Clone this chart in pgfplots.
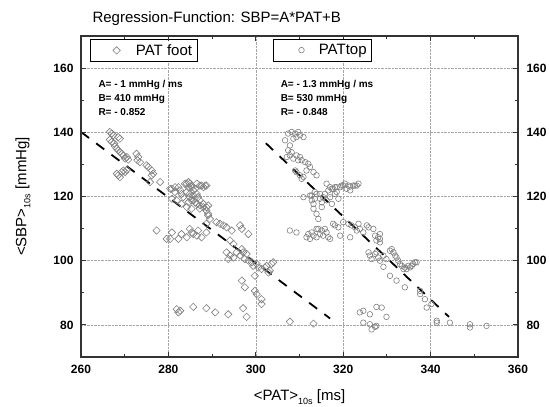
\documentclass[border=0pt]{standalone}
\usepackage{fontspec}
\setmainfont{Liberation Sans}
\usepackage{pgfplots}
\pgfplotsset{compat=1.18}
\usetikzlibrary{calc}

\pgfplotstableread{
x y
266.6 140.1
267.0 139.6
267.4 139.1
268.5 138.5
268.9 138.0
266.6 137.7
267.0 137.0
267.6 136.5
267.8 135.6
268.2 134.9
268.5 134.4
268.9 133.9
269.3 133.3
269.7 132.8
270.1 131.8
270.5 132.3
270.8 131.5
268.2 127.1
268.5 126.6
268.9 126.0
269.3 127.6
269.7 128.1
270.1 127.6
270.5 128.3
272.7 133.3
273.1 132.3
272.9 131.3
273.5 130.7
275.0 129.7
275.4 129.2
276.2 128.1
276.5 127.1
278.1 124.5
276.2 126.6
275.8 124.5
280.8 122.4
281.5 121.4
282.3 122.9
282.7 121.9
283.0 120.8
283.4 119.8
284.2 124.0
284.6 122.9
284.9 124.0
285.3 122.9
285.7 121.9
284.2 121.4
284.9 120.8
285.7 120.3
286.5 120.8
286.8 119.8
287.2 118.8
287.6 123.4
288.4 123.4
288.0 117.7
288.7 116.7
284.6 118.2
285.3 118.8
286.1 118.2
287.2 116.2
289.1 114.6
289.5 113.0
280.4 122.4
281.5 122.9
283.8 124.0
284.6 124.5
285.3 123.4
286.1 122.4
286.5 124.0
287.2 123.4
288.0 122.9
288.7 123.4
284.9 119.8
285.7 118.8
286.5 117.7
287.2 117.2
288.0 116.7
288.7 115.6
289.1 117.2
280.8 119.3
281.9 118.8
283.0 117.7
284.2 116.7
285.3 116.2
277.3 109.4
279.6 106.8
280.4 106.8
280.8 108.8
282.3 106.8
283.0 108.3
284.2 107.3
284.9 109.9
285.3 108.8
285.7 108.3
286.5 107.8
286.8 109.4
287.6 107.3
288.7 108.8
288.7 111.5
289.1 114.1
291.0 112.0
291.8 111.5
292.6 111.0
293.3 110.4
294.5 109.4
296.4 111.0
296.8 109.9
298.3 108.3
294.1 106.3
294.9 105.2
293.3 102.6
294.1 101.6
293.7 100.5
294.9 101.0
295.6 102.6
296.4 101.6
296.8 103.6
297.1 102.6
297.9 102.1
297.5 100.5
298.3 100.0
299.1 99.5
299.4 98.4
300.2 99.0
300.6 97.9
301.3 97.4
302.1 97.9
302.5 98.4
303.2 96.9
303.6 99.0
304.0 99.5
302.9 96.3
296.8 93.8
297.5 91.7
299.8 95.3
299.8 90.6
300.2 89.6
301.3 88.0
301.3 86.5
281.9 84.9
282.3 83.9
282.7 84.4
285.7 85.6
288.7 85.2
290.7 83.9
293.7 83.3
297.1 85.2
297.9 82.5
307.8 81.0
313.2 80.4
}\foot

\pgfplotstableread{
x y
306.7 137.5
307.4 139.6
308.2 140.1
309.0 139.6
309.7 140.1
310.1 139.1
310.9 138.5
309.3 138.5
308.6 138.0
307.8 135.9
307.4 134.4
307.1 132.3
307.8 132.8
308.2 133.8
308.6 131.8
309.3 132.8
310.1 132.3
309.7 131.3
310.5 131.3
311.3 130.7
312.0 130.2
312.4 129.2
311.6 128.1
313.2 127.6
313.9 126.6
309.0 128.1
309.3 127.6
310.1 126.6
310.5 125.5
310.9 126.1
310.9 119.8
312.4 120.3
312.8 118.8
313.2 117.7
313.5 119.3
313.9 120.8
314.7 119.3
315.1 118.2
315.4 119.8
315.8 120.8
316.2 118.8
317.0 119.8
317.4 117.7
318.1 120.8
318.1 122.9
318.9 119.3
319.6 123.4
320.4 124.0
321.2 123.4
321.6 121.9
322.3 123.4
323.1 123.4
323.5 124.0
313.2 116.2
313.9 114.6
314.3 113.0
315.1 116.7
316.6 121.9
316.2 124.0
317.0 122.9
317.7 122.4
318.5 122.9
312.8 120.3
313.5 121.4
314.7 120.8
317.4 122.4
318.5 121.4
319.3 122.9
320.0 123.4
320.8 122.4
321.6 123.1
322.7 123.4
307.8 109.4
309.3 108.8
311.6 107.3
312.0 108.3
312.4 106.8
312.8 108.8
313.2 107.8
313.9 107.3
314.3 109.9
314.7 108.3
315.1 109.4
315.4 107.8
315.8 109.9
316.2 108.8
316.6 107.3
317.0 106.8
313.9 109.9
319.3 107.8
321.6 107.3
317.7 111.5
318.1 111.0
318.9 110.4
320.0 112.0
321.2 111.5
321.9 111.0
322.7 110.4
323.5 111.5
323.8 109.9
323.1 109.4
324.6 108.8
325.8 110.4
325.4 111.0
326.9 109.9
328.4 108.3
328.0 107.3
328.4 106.8
327.6 106.3
328.4 105.7
327.3 107.8
325.8 102.6
326.1 101.6
326.5 100.5
327.3 102.1
327.6 102.6
328.0 101.0
328.4 100.0
329.2 101.6
329.9 100.5
330.7 103.1
331.1 103.6
331.5 102.6
331.9 101.6
332.2 101.0
332.6 100.0
333.0 99.0
333.4 98.4
333.8 97.4
334.1 97.9
334.5 97.4
334.9 98.4
335.3 97.9
335.7 98.4
336.0 99.0
336.4 99.5
336.8 99.5
329.2 98.1
330.7 95.3
332.2 93.8
334.1 91.7
337.6 90.6
337.6 89.6
338.7 88.0
339.1 85.4
340.2 86.5
341.4 81.3
341.4 80.7
344.4 80.7
349.0 80.2
349.0 79.2
352.8 79.7
323.8 83.9
324.6 84.4
326.1 83.3
327.6 85.6
328.8 85.4
329.9 82.5
324.6 80.7
326.1 80.2
326.5 78.6
327.3 79.4
327.6 79.7
}\top

\pgfplotsset{
  base/.style={
    width=437pt, height=321pt, scale only axis,
    xmin=260, xmax=360, ymin=70, ymax=170,
    xtick={260,280,...,360}, ytick={80,100,...,160},
    minor x tick num=1, minor y tick num=1,
    tick align=inside, major tick length=5pt, minor tick length=3pt,
    axis line style={line width=1.1pt, black!80},
    tick style={line width=1pt, black!80},
    tick label style={font=\fontsize{12}{12}\selectfont\bfseries},
    /pgf/number format/assume math mode=true,
    legend style={draw=black, line width=0.7pt, font=\fontsize{15}{15}\selectfont,
      anchor=north west, inner xsep=3pt, inner ysep=3pt},
  },
  regline/.style={black, line width=1.8pt, dash pattern=on 10pt off 9pt, forget plot},
}

\begin{document}
\begin{tikzpicture}
\begin{axis}[base, name=ax,
  grid=major, grid style={densely dotted, gray!70, line width=0.5pt},
  xticklabel style={yshift=-5pt}, yticklabel style={xshift=-4pt},
  legend style={at={(axis description cs:0.0206,0.991)}}]
  \addplot[only marks, mark=square, mark size=2.6pt, draw=gray, line width=0.6pt,
    mark options={rotate=45, fill=none},
    legend image code/.code={\path (0pt,0pt) (40pt,0pt); \draw[##1] plot coordinates {(23pt,0pt)};}]
    table[x=x,y=y] {\foot};
  \addlegendentry{PAT foot\hspace{8pt}}
  \addplot[regline] coordinates {(260,140.1) (317,82)};
  \node[anchor=base west, font=\fontsize{10}{10}\selectfont\bfseries] at (axis cs:263.2,154.1) {A= - 1 mmHg / ms};
  \node[anchor=base west, font=\fontsize{10}{10}\selectfont\bfseries] at (axis cs:263.2,149.6) {B= 410 mmHg};
  \node[anchor=base west, font=\fontsize{10}{10}\selectfont\bfseries] at (axis cs:263.2,145.1) {R= - 0.852};
\end{axis}
\begin{axis}[base,
  xticklabels={}, yticklabel pos=right, yticklabel style={xshift=5pt},
  legend style={at={(axis description cs:0.439,0.991)}}]
  \addplot[only marks, mark=o, mark size=2.8pt, draw=gray, line width=0.6pt,
    legend image code/.code={\path (0pt,0pt) (40pt,0pt); \draw[##1] plot coordinates {(25pt,0pt)};}]
    table[x=x,y=y] {\top};
  \addlegendentry{PATtop\hspace{8pt}}
  \addplot[regline] coordinates {(302.3,136.6) (344.2,82.5)};
  \node[anchor=base west, font=\fontsize{10}{10}\selectfont\bfseries] at (axis cs:304.9,154.1) {A= - 1.3 mmHg / ms};
  \node[anchor=base west, font=\fontsize{10}{10}\selectfont\bfseries] at (axis cs:304.9,149.6) {B= 530 mmHg};
  \node[anchor=base west, font=\fontsize{10}{10}\selectfont\bfseries] at (axis cs:304.9,145.1) {R= - 0.848};
\end{axis}
\node[anchor=west, font=\fontsize{15}{15}\selectfont] at ($(ax.north west)+(8pt,17pt)$) {Regression-Function: SBP=A*PAT+B};
\node[font=\fontsize{15}{15}\selectfont] at ($(ax.south)+(0,-40pt)$) {<PAT>\raisebox{-4pt}{\fontsize{9}{9}\selectfont 10s} [ms]};
\node[rotate=90, font=\fontsize{15}{15}\selectfont] at ($(ax.west)+(-58pt,0)$) {<SBP>\raisebox{-4pt}{\fontsize{9}{9}\selectfont 10s} [mmHg]};
\pgfresetboundingbox
\path[use as bounding box] ($(ax.south west)+(-81pt,-49pt)$) rectangle ($(ax.north east)+(32pt,36pt)$);
\end{tikzpicture}
\end{document}
